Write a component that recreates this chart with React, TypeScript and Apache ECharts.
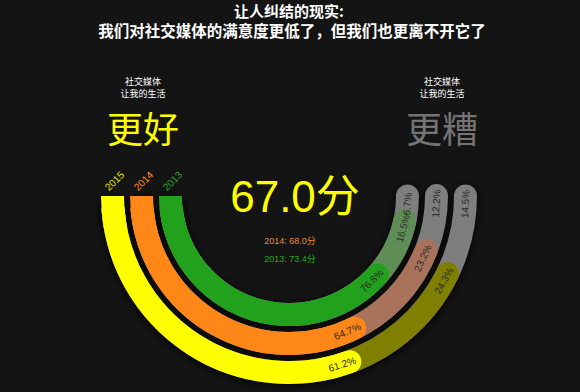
import React, { useEffect, useRef } from 'react';
import * as echarts from 'echarts';

// ---- data (inner ring to outer ring) ----
const years = ['2013', '2014', '2015'];
const better = [76.8, 64.7, 61.2];
const neutral = [16.5, 23.2, 24.3];
const worse = [6.7, 12.2, 14.5];
const scores = [73.4, 68.0, 67.0];

// ---- styles ----
const brightColors = ['#22a11c', '#ff8717', '#ffff00'];
const darkColors = ['#5e8d55', '#a8725b', '#807f00'];
const grayColor = '#7e7e7e';
const yearColors = ['#2aa524', '#ff8c1a', '#e6e600'];
const BG = '#141414';
const FONT = '"Liberation Sans", "Noto Sans CJK SC", sans-serif';
const CJK = '"Noto Sans CJK SC", "Liberation Sans", sans-serif';
const BAND = 23;

function geom(params: any, api: any) {
  const ring = api.value(0);
  const cx = params.coordSys.cx;
  const cy = params.coordSys.cy;
  const at = (v: number) => {
    const p = api.coord([ring, v]);
    let a = Math.atan2(p[1] - cy, p[0] - cx);
    if (a < -Math.PI / 2) a += 2 * Math.PI;
    return { a, r: Math.hypot(p[0] - cx, p[1] - cy) };
  };
  const b = api.value(1);
  const n = api.value(2);
  const w = api.value(3);
  const s0 = at(0);
  const r = s0.r;
  const a0 = s0.a;
  const aB = at(b).a;
  const aN = at(b + n).a;
  const aW = at(b + n + w).a;
  const dir = aW < a0 ? -1 : 1;
  const aS = a0 + dir * (BAND / 2 + 2) / r;
  const aF = a0 + dir * (BAND + 8) / r;
  return { ring, cx, cy, r, a0, aB, aN, aW, aS, aF, dir, b, n, w };
}

function arc(g: any, from: number, to: number, color: string, extra: any = {}) {
  return {
    type: 'arc',
    shape: { cx: g.cx, cy: g.cy, r: g.r, startAngle: from, endAngle: to, clockwise: to > from },
    style: { fill: 'none', stroke: color, lineWidth: BAND, lineCap: 'round', ...extra },
  };
}

function flat(g: any, color: string, extra: any = {}) {
  return {
    type: 'sector',
    shape: {
      cx: g.cx, cy: g.cy, r0: g.r - BAND / 2, r: g.r + BAND / 2,
      startAngle: g.a0, endAngle: g.aF, clockwise: g.aF > g.a0,
    },
    style: { fill: color, ...extra },
  };
}

function label(g: any, endAngle: number, value: number) {
  const a = endAngle - g.dir * 8 / g.r;
  return {
    type: 'text',
    x: g.cx + g.r * Math.cos(a),
    y: g.cy + g.r * Math.sin(a),
    rotation: Math.PI / 2 - a,
    style: {
      text: value.toFixed(1) + '%',
      fill: '#2a2a2a',
      font: '10px ' + FONT,
      align: 'center',
      verticalAlign: 'middle',
    },
  };
}

function renderShadow(params: any, api: any) {
  const g = geom(params, api);
  const sh = { shadowBlur: 8, shadowColor: 'rgba(0,0,0,0.95)', shadowOffsetY: 2 };
  return {
    type: 'group',
    children: [flat(g, '#000', sh), arc(g, g.aS, g.aW, '#000', sh)],
  };
}

function renderRing(params: any, api: any) {
  const g = geom(params, api);
  const p0x = g.cx + g.r * Math.cos(g.a0);
  return {
    type: 'group',
    children: [
      arc(g, g.aS, g.aW, grayColor),
      arc(g, g.aS, g.aN, darkColors[g.ring]),
      arc(g, g.aS, g.aB, brightColors[g.ring]),
      flat(g, brightColors[g.ring]),
      label(g, g.aB, g.b),
      label(g, g.aN, g.n),
      label(g, g.aW, g.w),
      {
        type: 'text',
        x: p0x + 2,
        y: g.cy - 15,
        rotation: Math.PI / 4,
        style: {
          text: years[g.ring],
          fill: yearColors[g.ring],
          font: '10px ' + FONT,
          align: 'center',
          verticalAlign: 'middle',
        },
      },
    ],
  };
}

function txt(x: number, y: number, text: string, font: string, fill: string) {
  return {
    type: 'text',
    x,
    y,
    style: { text, font, fill, align: 'center', verticalAlign: 'middle', textAlign: 'center', textVerticalAlign: 'middle' },
  };
}

export default function App() {
  const ref = useRef<HTMLDivElement>(null);
  useEffect(() => {
    if (!ref.current) return;
    const chart = echarts.init(ref.current, undefined, { renderer: 'svg' });
    const ringData = years.map((_, i) => [i, better[i], neutral[i], worse[i]]);
    const last = scores.length - 1;
    chart.setOption({
      animation: false,
      backgroundColor: BG,
      polar: { center: [289, 196], radius: [104, 191] },
      angleAxis: { type: 'value', min: 0, max: 200, startAngle: 180, clockwise: false, show: false },
      radiusAxis: { type: 'category', data: years, show: false },
      series: [
        {
          type: 'custom',
          coordinateSystem: 'polar',
          silent: true,
          z: 1,
          data: ringData,
          renderItem: renderShadow,
        },
        {
          type: 'custom',
          coordinateSystem: 'polar',
          silent: true,
          z: 2,
          data: ringData,
          renderItem: renderRing,
        },
      ],
      graphic: [
        txt(289, 10, '让人纠结的现实:', 'bold 15px ' + CJK, '#ffffff'),
        txt(292, 30, '我们对社交媒体的满意度更低了，但我们也更离不开它了', 'bold 15.5px ' + CJK, '#ffffff'),
        txt(143, 81, '社交媒体', '9px ' + CJK, '#ffffff'),
        txt(143, 93, '让我的生活', '9px ' + CJK, '#ffffff'),
        txt(143, 127, '更好', '36px ' + CJK, '#ffff00'),
        txt(442, 81, '社交媒体', '9px ' + CJK, '#ffffff'),
        txt(442, 93, '让我的生活', '9px ' + CJK, '#ffffff'),
        txt(442, 127, '更糟', '36px ' + CJK, '#747474'),
        txt(295, 196, scores[last].toFixed(1) + '分', '44px ' + FONT, '#ffff00'),
        txt(290, 241, years[1] + ': ' + scores[1].toFixed(1) + '分', '9px ' + FONT, '#ea8a2e'),
        txt(290, 259, years[0] + ': ' + scores[0].toFixed(1) + '分', '9px ' + FONT, '#2aa524'),
      ],
    });
    return () => chart.dispose();
  }, []);
  return (
    <div
      ref={ref}
      style={{ position: 'fixed', left: 0, top: 0, width: 580, height: 392, background: BG }}
    />
  );
}
